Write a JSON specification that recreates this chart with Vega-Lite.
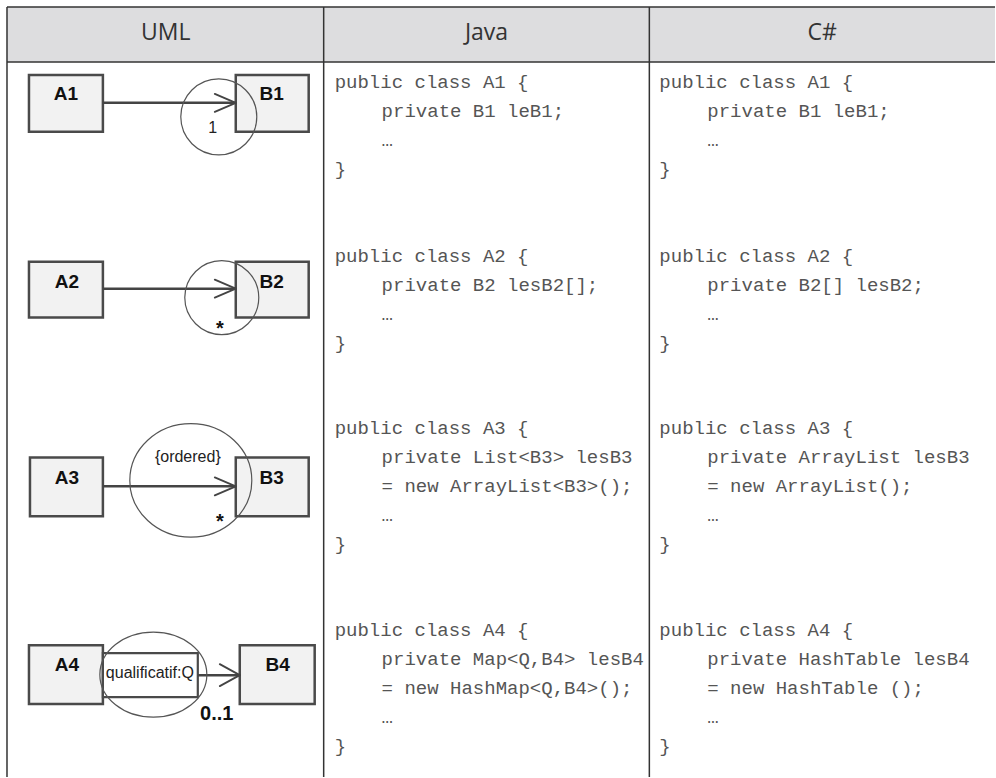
{
  "$schema": "https://vega.github.io/schema/vega-lite/v6.json",
  "width": 996,
  "height": 778,
  "padding": 0,
  "autosize": {"type": "fit", "contains": "padding"},
  "background": "white",
  "config": {"view": {"stroke": null}},
  "datasets": {
    "header": [{"x": 7, "x2": 996, "y": 7, "y2": 62}],
    "grid": [
      {"x": 7, "x2": 996, "y": 7, "y2": 7},
      {"x": 7, "x2": 996, "y": 62, "y2": 62},
      {"x": 7, "x2": 7, "y": 7, "y2": 778},
      {"x": 324, "x2": 324, "y": 7, "y2": 778},
      {"x": 650, "x2": 650, "y": 7, "y2": 778}
    ],
    "headtext": [
      {"x": 166, "y": 33, "label": "UML"},
      {"x": 487, "y": 33, "label": "Java"},
      {"x": 823, "y": 33, "label": "C#"}
    ],
    "boxes": [
      {"name": "A1", "x": 29, "x2": 103, "y": 75, "y2": 132},
      {"name": "B1", "x": 236, "x2": 309, "y": 75, "y2": 132},
      {"name": "A2", "x": 29, "x2": 103, "y": 262, "y2": 318},
      {"name": "B2", "x": 236, "x2": 309, "y": 262, "y2": 318},
      {"name": "A3", "x": 30, "x2": 103, "y": 458, "y2": 517},
      {"name": "B3", "x": 236, "x2": 309, "y": 458, "y2": 517},
      {"name": "A4", "x": 29, "x2": 103, "y": 646, "y2": 705},
      {"name": "B4", "x": 240, "x2": 315, "y": 646, "y2": 705}
    ],
    "qualifier": [{"x": 103, "x2": 198, "y": 654, "y2": 698}],
    "shafts": [
      {"x": 103, "x2": 236, "y": 103, "y2": 103},
      {"x": 103, "x2": 236, "y": 289, "y2": 289},
      {"x": 103, "x2": 236, "y": 487, "y2": 487},
      {"x": 198, "x2": 240, "y": 676, "y2": 676}
    ],
    "heads": [
      {"x": 215, "y": 94, "x2": 236, "y2": 103},
      {"x": 215, "y": 112, "x2": 236, "y2": 103},
      {"x": 215, "y": 280, "x2": 236, "y2": 289},
      {"x": 215, "y": 298, "x2": 236, "y2": 289},
      {"x": 215, "y": 478, "x2": 236, "y2": 487},
      {"x": 215, "y": 496, "x2": 236, "y2": 487},
      {"x": 220, "y": 665, "x2": 240, "y2": 676},
      {"x": 220, "y": 687, "x2": 240, "y2": 676}
    ],
    "rings": [
      {"x": 219, "y": 117, "r": 38, "form": "round"},
      {"x": 222, "y": 298, "r": 37, "form": "round"},
      {"x": 191, "y": 481, "r": 61, "form": "oval3"},
      {"x": 153.5, "y": 675.5, "r": 53.5, "form": "oval4"}
    ],
    "boxlabels": [
      {"x": 66, "y": 94, "label": "A1"},
      {"x": 272, "y": 94, "label": "B1"},
      {"x": 67, "y": 282, "label": "A2"},
      {"x": 272, "y": 282, "label": "B2"},
      {"x": 67, "y": 479, "label": "A3"},
      {"x": 272, "y": 479, "label": "B3"},
      {"x": 67, "y": 666, "label": "A4"},
      {"x": 278, "y": 666, "label": "B4"}
    ],
    "notes": [
      {"x": 213, "y": 128, "label": "1"},
      {"x": 188, "y": 458, "label": "{ordered}"},
      {"x": 150, "y": 674, "label": "qualificatif:Q"}
    ],
    "mults": [
      {"x": 220, "y": 329, "label": "*"},
      {"x": 220, "y": 523, "label": "*"},
      {"x": 217, "y": 715, "label": "0..1"}
    ],
    "code": [
      {"x": 335, "y": 82, "line": "public class A1 {"},
      {"x": 382, "y": 111, "line": "private B1 leB1;"},
      {"x": 382, "y": 140, "line": "…"},
      {"x": 335, "y": 169, "line": "}"},
      {"x": 335, "y": 256, "line": "public class A2 {"},
      {"x": 382, "y": 285, "line": "private B2 lesB2[];"},
      {"x": 382, "y": 314, "line": "…"},
      {"x": 335, "y": 343, "line": "}"},
      {"x": 335, "y": 429, "line": "public class A3 {"},
      {"x": 382, "y": 458, "line": "private List<B3> lesB3"},
      {"x": 382, "y": 487, "line": "= new ArrayList<B3>();"},
      {"x": 382, "y": 516, "line": "…"},
      {"x": 335, "y": 545, "line": "}"},
      {"x": 335, "y": 631, "line": "public class A4 {"},
      {"x": 382, "y": 660, "line": "private Map<Q,B4> lesB4"},
      {"x": 382, "y": 689, "line": "= new HashMap<Q,B4>();"},
      {"x": 382, "y": 718, "line": "…"},
      {"x": 335, "y": 747, "line": "}"},
      {"x": 660, "y": 82, "line": "public class A1 {"},
      {"x": 708, "y": 111, "line": "private B1 leB1;"},
      {"x": 708, "y": 140, "line": "…"},
      {"x": 660, "y": 169, "line": "}"},
      {"x": 660, "y": 256, "line": "public class A2 {"},
      {"x": 708, "y": 285, "line": "private B2[] lesB2;"},
      {"x": 708, "y": 314, "line": "…"},
      {"x": 660, "y": 343, "line": "}"},
      {"x": 660, "y": 429, "line": "public class A3 {"},
      {"x": 708, "y": 458, "line": "private ArrayList lesB3"},
      {"x": 708, "y": 487, "line": "= new ArrayList();"},
      {"x": 708, "y": 516, "line": "…"},
      {"x": 660, "y": 545, "line": "}"},
      {"x": 660, "y": 631, "line": "public class A4 {"},
      {"x": 708, "y": 660, "line": "private HashTable lesB4"},
      {"x": 708, "y": 689, "line": "= new HashTable ();"},
      {"x": 708, "y": 718, "line": "…"},
      {"x": 660, "y": 747, "line": "}"}
    ]
  },
  "encoding": {
    "x": {"field": "x", "type": "quantitative", "axis": null, "scale": {"domain": [0, 996], "nice": false, "zero": false}},
    "y": {"field": "y", "type": "quantitative", "axis": null, "scale": {"domain": [0, 778], "nice": false, "zero": false, "reverse": true}}
  },
  "layer": [
    {
      "data": {"name": "header"},
      "mark": {"type": "rect", "fill": "#dddddf", "stroke": null},
      "encoding": {"x2": {"field": "x2"}, "y2": {"field": "y2"}}
    },
    {
      "data": {"name": "grid"},
      "mark": {"type": "rule", "stroke": "#333333", "strokeWidth": 1.5},
      "encoding": {"x2": {"field": "x2"}, "y2": {"field": "y2"}}
    },
    {
      "data": {"name": "headtext"},
      "mark": {"type": "text", "font": "Open Sans", "fontSize": 23, "fill": "#333333", "align": "center", "baseline": "middle"},
      "encoding": {"text": {"field": "label"}}
    },
    {
      "data": {"name": "boxes"},
      "mark": {"type": "rect", "fill": "#f2f2f2", "stroke": "#4a4a4a", "strokeWidth": 2.5},
      "encoding": {"x2": {"field": "x2"}, "y2": {"field": "y2"}}
    },
    {
      "data": {"name": "qualifier"},
      "mark": {"type": "rect", "fill": "#ffffff", "stroke": "#4a4a4a", "strokeWidth": 2.2},
      "encoding": {"x2": {"field": "x2"}, "y2": {"field": "y2"}}
    },
    {
      "data": {"name": "shafts"},
      "mark": {"type": "rule", "stroke": "#444444", "strokeWidth": 2.5},
      "encoding": {"x2": {"field": "x2"}, "y2": {"field": "y2"}}
    },
    {
      "data": {"name": "heads"},
      "mark": {"type": "rule", "stroke": "#444444", "strokeWidth": 1.8, "strokeCap": "round"},
      "encoding": {"x2": {"field": "x2"}, "y2": {"field": "y2"}}
    },
    {
      "data": {"name": "rings"},
      "mark": {"type": "point", "filled": false, "stroke": "#555555", "strokeWidth": 1.2, "opacity": 1},
      "encoding": {
        "size": {"field": "r", "type": "quantitative", "legend": null, "scale": {"type": "pow", "exponent": 2, "domain": [0, 100], "range": [0, 40000], "zero": true}},
        "shape": {"field": "form", "type": "nominal", "legend": null, "scale": {"domain": ["round", "oval3", "oval4"], "range": ["circle", "M1,0A1,0.93,0,1,1,-1,0A1,0.93,0,1,1,1,0Z", "M1,0A1,0.794,0,1,1,-1,0A1,0.794,0,1,1,1,0Z"]}}
      }
    },
    {
      "data": {"name": "boxlabels"},
      "mark": {"type": "text", "font": "Liberation Sans", "fontWeight": "bold", "fontSize": 19, "fill": "#111111", "align": "center", "baseline": "middle"},
      "encoding": {"text": {"field": "label"}}
    },
    {
      "data": {"name": "notes"},
      "mark": {"type": "text", "font": "Liberation Sans", "fontSize": 16, "fill": "#222222", "align": "center", "baseline": "middle"},
      "encoding": {"text": {"field": "label"}}
    },
    {
      "data": {"name": "mults"},
      "mark": {"type": "text", "font": "Liberation Sans", "fontWeight": "bold", "fontSize": 20, "fill": "#111111", "align": "center", "baseline": "middle"},
      "encoding": {"text": {"field": "label"}}
    },
    {
      "data": {"name": "code"},
      "mark": {"type": "text", "font": "Liberation Mono", "fontSize": 19, "fill": "#555555", "align": "left", "baseline": "middle"},
      "encoding": {"text": {"field": "line"}}
    }
  ]
}
